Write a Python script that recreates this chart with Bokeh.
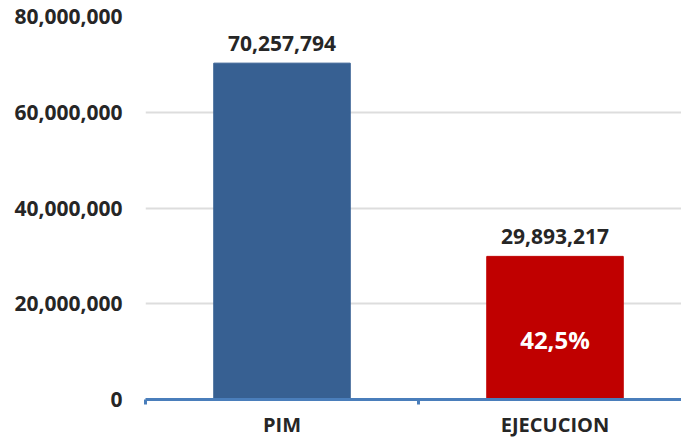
from bokeh.plotting import figure
from bokeh.models import Range1d, FixedTicker, ColumnDataSource, LabelSet, NumeralTickFormatter
from bokeh.core.properties import value
from bokeh.embed import file_html
from bokeh.resources import INLINE

categories = ["PIM", "EJECUCION"]
values = [70257794, 29893217]
value_labels = ["70,257,794", "29,893,217"]
pct_label = ["", "42,5%"]
colors = ["#376092", "#C00000"]
y_ticks = [0, 20000000, 40000000, 60000000, 80000000]

xs = [i + 0.5 for i in range(len(categories))]
src = ColumnDataSource(dict(x=xs, top=values, lab=value_labels, pct=pct_label,
                            mid=[v / 2 for v in values], color=colors))

FONT = "Open Sans"
p = figure(width=681, height=440, output_backend="svg", toolbar_location=None,
           x_range=Range1d(0, 536 / 273), y_range=Range1d(0, 80000000),
           min_border_left=145, min_border_right=0, min_border_top=16, min_border_bottom=39)
p.outline_line_color = None
p.background_fill_color = "white"
p.border_fill_color = "white"

p.vbar(x="x", top="top", width=0.5, bottom=0, color="color", source=src)

p.add_layout(LabelSet(x="x", y="top", text="lab", source=src, text_align="center",
                      text_baseline="middle", y_offset=20, text_font=value(FONT),
                      text_font_style="bold", text_font_size="21px", text_color="#262626"))
p.add_layout(LabelSet(x="x", y="mid", text="pct", source=src, text_align="center",
                      text_baseline="middle", y_offset=-12, text_font=value(FONT),
                      text_font_style="bold", text_font_size="24px", text_color="white"))

# y axis
p.yaxis.ticker = FixedTicker(ticks=y_ticks)
p.yaxis.formatter = NumeralTickFormatter(format="0,0")
p.yaxis.axis_line_color = None
p.yaxis.major_tick_line_color = None
p.yaxis.major_tick_out = 0
p.yaxis.major_tick_in = 0
p.yaxis.minor_tick_line_color = None
p.yaxis.major_label_standoff = 23
p.yaxis.major_label_text_font = FONT
p.yaxis.major_label_text_font_style = "bold"
p.yaxis.major_label_text_font_size = "21px"
p.yaxis.major_label_text_color = "#262626"

p.ygrid.ticker = FixedTicker(ticks=y_ticks[1:])
p.ygrid.grid_line_color = "#DDDDDD"
p.ygrid.grid_line_width = 2
p.xgrid.grid_line_color = None

# x axis
p.xaxis.ticker = FixedTicker(ticks=xs, minor_ticks=[0, 1, 2])
p.xaxis.major_label_overrides = {x: c for x, c in zip(xs, categories)}
p.xaxis.axis_line_color = "#4A7EBB"
p.xaxis.axis_line_width = 3
p.xaxis.major_tick_line_color = None
p.xaxis.major_tick_out = 0
p.xaxis.major_tick_in = 0
p.xaxis.minor_tick_line_color = "#4A7EBB"
p.xaxis.minor_tick_line_width = 3
p.xaxis.minor_tick_out = 5
p.xaxis.minor_tick_in = 0
p.xaxis.major_label_standoff = 6
p.xaxis.major_label_text_font = FONT
p.xaxis.major_label_text_font_style = "bold"
p.xaxis.major_label_text_font_size = "20px"
p.xaxis.major_label_text_color = "#262626"

open("out.html", "w").write(file_html(p, INLINE))
